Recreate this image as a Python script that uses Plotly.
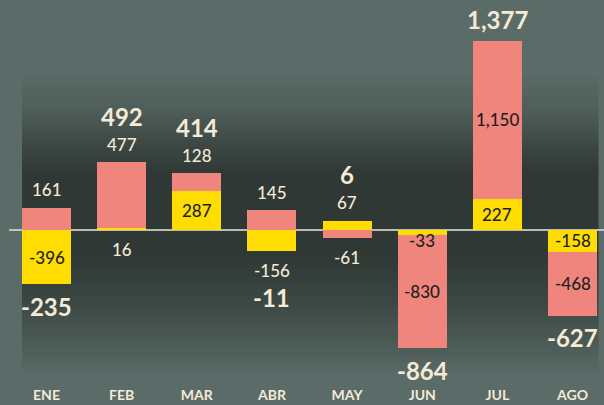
import plotly.graph_objects as go

# ---------------- data ----------------
months = ["ENE", "FEB", "MAR", "ABR", "MAY", "JUN", "JUL", "AGO"]
yellow_vals = [-396, 16, 287, -156, 67, -33, 227, -158]
salmon_vals = [161, 477, 128, 145, -61, -830, 1150, -468]
totals = [-235, 492, 414, -11, 6, -864, 1377, -627]

# label placement (style): in = inside bar, above / below = outside
yellow_pos = ["in", "below", "in", "below", "above", "in", "in", "in"]
salmon_pos = ["above", "above", "above", "above", "below", "in", "in", "in"]

# ---------------- style ----------------
W, H = 604, 405
MB = 20
PLOT_H = H - MB
ZERO_PX = 230
PPU = 0.13725           # pixels per unit
Y_RANGE = [-(PLOT_H - ZERO_PX) / PPU, ZERO_PX / PPU]
X_RANGE = [-0.619, 7.419]
BAR_W = 0.652

OUTER = "#5b6c68"
YELLOW = "#ffdd00"
SALMON = "#ef857c"
CREAM = "#f4ead6"
DARK = "#1e1e1e"
FONT = "Lato"

x = list(range(len(months)))

fig = go.Figure()
fig.add_trace(go.Bar(x=x, y=yellow_vals, width=BAR_W, marker=dict(color=YELLOW, line=dict(width=0)),
                     hoverinfo="skip"))
fig.add_trace(go.Bar(x=x, y=salmon_vals, width=BAR_W, marker=dict(color=SALMON, line=dict(width=0)),
                     hoverinfo="skip"))

# ---------------- labels ----------------
ann = []
for i in x:
    pos_acc, neg_acc = 0.0, 0.0
    segs = []
    for v, p in ((yellow_vals[i], yellow_pos[i]), (salmon_vals[i], salmon_pos[i])):
        if v >= 0:
            base = pos_acc
            pos_acc += v
        else:
            base = neg_acc
            neg_acc += v
        segs.append((v, p, base))
    pos_top, neg_bot = pos_acc, neg_acc
    has_above = any(p == "above" for _, p, _ in segs)
    has_below = any(p == "below" for _, p, _ in segs)
    for v, p, base in segs:
        txt = f"{v:,}"
        if p == "in":
            if abs(v) * PPU < 20:
                y, ys = base, (10 if v > 0 else -10)
            else:
                y, ys = base + v / 2, 0
            ann.append(dict(x=i, y=y, yshift=ys, text=txt, showarrow=False,
                            font=dict(family=FONT, size=17, color=DARK, weight=500), yanchor="middle"))
        elif p == "above":
            ann.append(dict(x=i, y=pos_top, yshift=18, text=txt, showarrow=False,
                            font=dict(family=FONT, size=17, color=CREAM, weight=500), yanchor="middle"))
        else:
            ann.append(dict(x=i, y=neg_bot, yshift=-19, text=txt, showarrow=False,
                            font=dict(family=FONT, size=17, color=CREAM, weight=500), yanchor="middle"))
    t = totals[i]
    if t >= 0:
        y, ys = pos_top, (46 if has_above else 22)
    else:
        y, ys = neg_bot, -(46 if has_below else 22)
    ann.append(dict(x=i, y=y, yshift=ys, text=f"<b>{t:,}</b>", showarrow=False,
                    font=dict(family=FONT, size=24, color=CREAM), yanchor="middle"))

# ---------------- gradient background ----------------
def hex2rgb(h):
    h = h.lstrip("#")
    return tuple(int(h[k:k + 2], 16) for k in (0, 2, 4))

stops = [(76, "#5a6a66"), (110, "#4f5e5a"), (150, "#3a4541"), (175, "#2f3835"),
         (255, "#2f3835"), (300, "#3b4743"), (340, "#4b5955"), (372, "#586864")]

def color_at(p):
    for (p0, c0), (p1, c1) in zip(stops[:-1], stops[1:]):
        if p0 <= p <= p1:
            t = (p - p0) / (p1 - p0)
            a, b = hex2rgb(c0), hex2rgb(c1)
            return "rgb(%d,%d,%d)" % tuple(round(a[k] + (b[k] - a[k]) * t) for k in range(3))
    return OUTER

shapes = []
top_px, bot_px = stops[0][0], stops[-1][0]
step = 3
p = top_px
while p < bot_px:
    p2 = min(p + step, bot_px)
    shapes.append(dict(type="rect", xref="x", yref="paper",
                       x0=-BAR_W / 2, x1=len(months) - 1 + BAR_W / 2 + 0.02,
                       y0=(PLOT_H - p2) / PLOT_H, y1=(PLOT_H - p) / PLOT_H + 0.0005,
                       fillcolor=color_at((p + p2) / 2), line=dict(width=0), layer="below"))
    p = p2

shapes.append(dict(type="line", xref="paper", yref="y", x0=9 / W, x1=1, y0=0, y1=0,
                   line=dict(color="rgba(215,210,198,0.85)", width=2), layer="below"))

fig.update_layout(
    width=W, height=H,
    margin=dict(l=0, r=0, t=0, b=MB),
    paper_bgcolor=OUTER, plot_bgcolor="rgba(0,0,0,0)",
    barmode="relative", bargap=0, showlegend=False,
    annotations=ann, shapes=shapes,
    xaxis=dict(range=X_RANGE, tickvals=x, ticktext=[f"<b>{m}</b>" for m in months],
               showgrid=False, zeroline=False, showline=False, ticks="",
               tickfont=dict(family=FONT, size=14, color=CREAM), fixedrange=True),
    yaxis=dict(range=Y_RANGE, visible=False, showgrid=False, zeroline=False, fixedrange=True),
)

fig.write_html("out.html", config={"displayModeBar": False},
               post_script="document.body.style.margin='0';document.body.style.overflow='hidden';"
                           "document.body.style.background='" + OUTER + "';")
